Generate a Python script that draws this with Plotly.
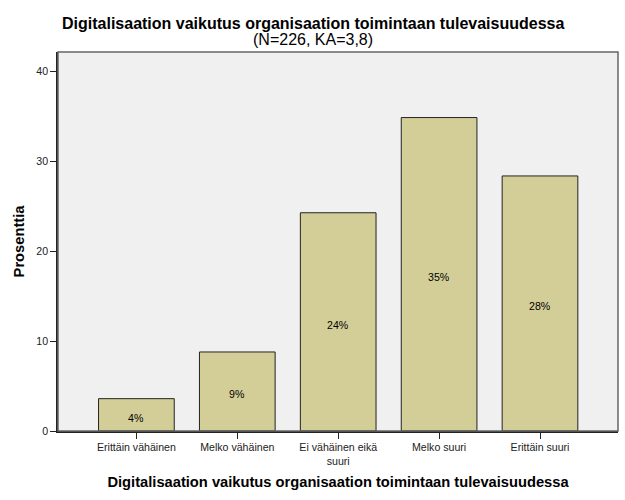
import plotly.graph_objects as go

categories = ["Erittäin vähäinen", "Melko vähäinen", "Ei vähäinen eikä<br>suuri", "Melko suuri", "Erittäin suuri"]
values = [3.6, 8.8, 24.3, 34.9, 28.4]
labels = ["4%", "9%", "24%", "35%", "28%"]
y_ticks = [0, 10, 20, 30, 40]
title_lines = ["<b>Digitalisaation vaikutus organisaation toimintaan tulevaisuudessa</b>", "(N=226, KA=3,8)"]

FONT = "Arial, Liberation Sans, sans-serif"

fig = go.Figure()
fig.add_trace(go.Bar(
    x=list(range(len(categories))), y=values,
    marker=dict(color="#D3CE97", line=dict(color="#222222", width=1)),
    width=0.75, hoverinfo="skip",
))

annotations = []
for i, line in enumerate(title_lines):
    annotations.append(dict(
        text=line, xref="paper", yref="paper",
        x=(312.5 - 58) / 560, y=1, xanchor="center", yanchor="middle",
        yshift=52 - (23 + 16 * i), showarrow=False,
        font=dict(size=16, color="black", family=FONT),
    ))
for i, (v, lab) in enumerate(zip(values, labels)):
    annotations.append(dict(
        text=lab, x=i, y=v / 2, xref="x", yref="y",
        xanchor="center", yanchor="middle", yshift=-3, showarrow=False,
        font=dict(size=10.6, color="black", family=FONT),
    ))

fig.update_layout(
    width=625, height=500,
    margin=dict(l=58, r=7, t=52, b=69),
    paper_bgcolor="white", plot_bgcolor="#F0F0F0",
    showlegend=False,
    font=dict(family=FONT, color="#222222"),
    annotations=annotations,
    xaxis=dict(
        range=[-0.777, 4.773], tickmode="array",
        tickvals=list(range(len(categories))), ticktext=categories,
        ticks="outside", ticklen=6, tickcolor="#222222",
        showline=True, linecolor="#222222", linewidth=1.5,
        showgrid=False, zeroline=False,
        tickfont=dict(size=10.6, color="#222222"),
        title=dict(text="<b>Digitalisaation vaikutus organisaation toimintaan tulevaisuudessa</b>",
                   font=dict(size=14.7, color="black"), standoff=10),
    ),
    yaxis=dict(
        range=[0, 42.2], tickmode="array", tickvals=y_ticks,
        ticks="outside", ticklen=6, tickcolor="#222222",
        showline=True, linecolor="#222222", linewidth=1.5,
        showgrid=False, zeroline=False,
        tickfont=dict(size=10.6, color="#222222"),
        title=dict(text="<b>Prosenttia</b>", font=dict(size=14.7, color="black"), standoff=8),
    ),
    shapes=[dict(type="rect", xref="paper", yref="paper", x0=0, y0=0, x1=1, y1=1,
                 line=dict(color="#666666", width=1.5), layer="above")],
)

fig.write_html("out.html")
